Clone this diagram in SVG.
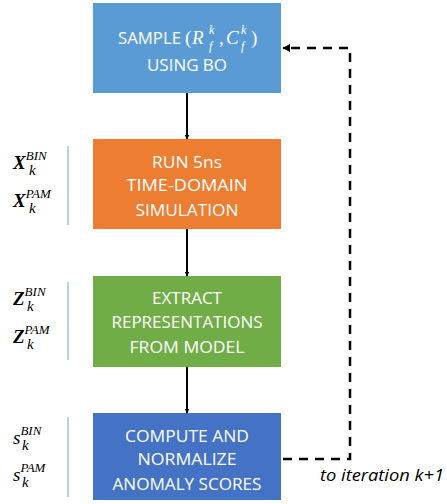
<svg xmlns="http://www.w3.org/2000/svg" width="447" height="504" viewBox="0 0 447 504">
<defs>
<marker id="ah" viewBox="0 0 10 10" refX="9" refY="5" markerWidth="5" markerHeight="5" orient="auto" markerUnits="userSpaceOnUse">
<path d="M0,0 L10,5 L0,10 z" fill="#000"/>
</marker>
<marker id="ah2" viewBox="0 0 10 10" refX="9" refY="5" markerWidth="8" markerHeight="8" orient="auto" markerUnits="userSpaceOnUse">
<path d="M0,0 L10,5 L0,10 z" fill="#000"/>
</marker>
</defs>
<style>
.bt{font-family:"Open Sans","Liberation Sans",sans-serif;font-size:17px;fill:#fff;text-anchor:middle}
.bm{font-family:"Liberation Serif","DejaVu Serif",serif;font-style:italic;fill:#fff}
.m{font-family:"Liberation Serif","DejaVu Serif",serif;font-style:italic;fill:#000}
.mb{font-weight:bold;font-size:19px}
.sup{font-size:13px}
.sub{font-size:15px}
.side{stroke:#9DC3E6;stroke-width:1.5}
.conn{stroke:#000;stroke-width:2;fill:none}
.dash{stroke:#000;stroke-width:2.5;fill:none;stroke-dasharray:9,7}
</style>
<g id="n1">
<rect x="93" y="3" width="188" height="90" fill="#5B9BD5"/>
<text class="bt" x="118" y="44" style="text-anchor:start" textLength="63" lengthAdjust="spacingAndGlyphs">SAMPLE</text>
<text class="bm" x="185" y="44" font-size="19" style="font-style:normal">(</text>
<text class="bm" x="192" y="44" font-size="19">R</text>
<text class="bm" x="209" y="34" font-size="12">k</text>
<text class="bm" x="209" y="50" font-size="12">f</text>
<text class="bm" x="219" y="44" font-size="19" style="font-style:normal">,</text>
<text class="bm" x="226" y="44" font-size="19">C</text>
<text class="bm" x="241" y="34" font-size="12">k</text>
<text class="bm" x="241" y="50" font-size="12">f</text>
<text class="bm" x="251" y="44" font-size="19" style="font-style:normal">)</text>
<text class="bt" x="187" y="71" textLength="80" lengthAdjust="spacingAndGlyphs">USING BO</text>
</g>
<g id="n2">
<rect x="93" y="139" width="188" height="90" fill="#ED7D31"/>
<text class="bt" x="187" y="168" textLength="70" lengthAdjust="spacingAndGlyphs">RUN 5ns</text>
<text class="bt" x="187" y="191" textLength="121" lengthAdjust="spacingAndGlyphs">TIME-DOMAIN</text>
<text class="bt" x="187" y="216" textLength="103" lengthAdjust="spacingAndGlyphs">SIMULATION</text>
</g>
<g id="n3">
<rect x="93" y="276" width="188" height="91" fill="#70AD47"/>
<text class="bt" x="187" y="304" textLength="70" lengthAdjust="spacingAndGlyphs">EXTRACT</text>
<text class="bt" x="187" y="328" textLength="151" lengthAdjust="spacingAndGlyphs">REPRESENTATIONS</text>
<text class="bt" x="187" y="353" textLength="115" lengthAdjust="spacingAndGlyphs">FROM MODEL</text>
</g>
<g id="n4">
<rect x="93" y="413" width="188" height="87" fill="#4472C4"/>
<text class="bt" x="187" y="442" textLength="124" lengthAdjust="spacingAndGlyphs">COMPUTE AND</text>
<text class="bt" x="187" y="465" textLength="99" lengthAdjust="spacingAndGlyphs">NORMALIZE</text>
<text class="bt" x="187" y="490" textLength="149" lengthAdjust="spacingAndGlyphs">ANOMALY SCORES</text>
</g>
<g id="labels">
<line class="side" x1="68" y1="146" x2="68" y2="225"/>
<text class="m" x="13" y="169"><tspan class="mb">X</tspan><tspan class="sup" dy="-9">BIN</tspan></text>
<text class="m sub" x="29" y="175">k</text>
<text class="m" x="13" y="207"><tspan class="mb">X</tspan><tspan class="sup" dy="-9">PAM</tspan></text>
<text class="m sub" x="29" y="213">k</text>
<line class="side" x1="68" y1="282" x2="68" y2="360"/>
<text class="m" x="13" y="305"><tspan class="mb">Z</tspan><tspan class="sup" dy="-9">BIN</tspan></text>
<text class="m sub" x="27" y="311">k</text>
<text class="m" x="13" y="343"><tspan class="mb">Z</tspan><tspan class="sup" dy="-9">PAM</tspan></text>
<text class="m sub" x="27" y="349">k</text>
<line class="side" x1="68" y1="417" x2="68" y2="497"/>
<text class="m" x="13" y="444"><tspan font-size="19">s</tspan><tspan class="sup" dy="-9">BIN</tspan></text>
<text class="m sub" x="22" y="450">k</text>
<text class="m" x="13" y="481"><tspan font-size="19">s</tspan><tspan class="sup" dy="-9">PAM</tspan></text>
<text class="m sub" x="22" y="487">k</text>
</g>
<g id="connectors">
<line class="conn" x1="187" y1="93" x2="187" y2="139" marker-end="url(#ah)"/>
<line class="conn" x1="187" y1="229" x2="187" y2="276" marker-end="url(#ah)"/>
<line class="conn" x1="187" y1="367" x2="187" y2="413" marker-end="url(#ah)"/>
<polyline class="dash" points="283,459 350,459 350,48 283,48" marker-end="url(#ah2)"/>
</g>
<text x="320" y="481" font-family="Open Sans,Liberation Sans,sans-serif" font-style="italic" font-size="17" fill="#000" textLength="124" lengthAdjust="spacingAndGlyphs">to iteration k+1</text>
</svg>
